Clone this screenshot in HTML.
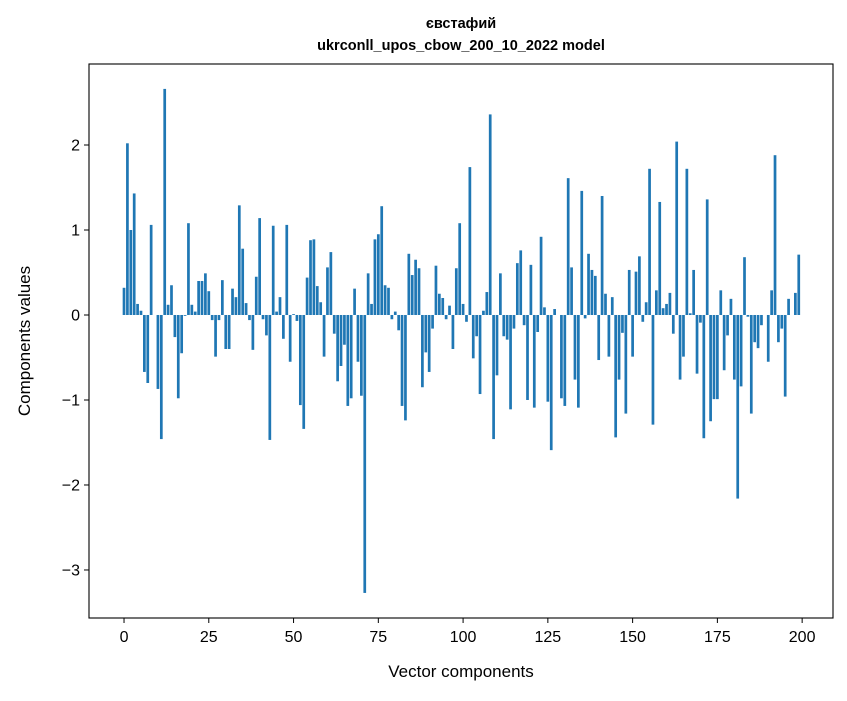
<!DOCTYPE html>
<html><head><meta charset="utf-8"><style>
body{margin:0;background:#fff;font-family:"Liberation Sans","DejaVu Sans",sans-serif}
</style></head><body>
<svg width="847" height="696" viewBox="0 0 847 696" xmlns="http://www.w3.org/2000/svg">
<rect width="847" height="696" fill="#fff"/>
<text x="461" y="28" text-anchor="middle" font-size="14.5" font-weight="bold" fill="#000">євстафий</text>
<text x="461" y="50" text-anchor="middle" font-size="14.5" font-weight="bold" fill="#000">ukrconll_upos_cbow_200_10_2022 model</text>
<g id="bars"></g>
<g id="axes"></g>
<rect x="89" y="64" width="744" height="554" fill="none" stroke="#000" stroke-width="1.1"/>
<text x="461" y="677" text-anchor="middle" font-size="17">Vector components</text>
<text transform="translate(30,341) rotate(-90)" text-anchor="middle" font-size="17">Components values</text>
</svg>
<script>
const values = [0.32,2.02,1.0,1.43,0.13,0.05,-0.67,-0.80,1.06,0.0,-0.87,-1.46,2.66,0.12,0.35,-0.26,-0.98,-0.45,-0.01,1.08,
0.12,0.04,0.40,0.40,0.49,0.28,-0.06,-0.49,-0.06,0.41,-0.40,-0.40,0.31,0.21,1.29,0.78,0.14,-0.06,-0.41,0.45,
1.14,-0.05,-0.24,-1.47,1.05,0.04,0.21,-0.28,1.06,-0.55,0.01,-0.07,-1.06,-1.34,0.44,0.88,0.89,0.34,0.15,-0.49,
0.56,0.74,-0.22,-0.78,-0.60,-0.35,-1.07,-0.98,0.31,-0.55,-0.95,-3.27,0.49,0.13,0.89,0.95,1.28,0.35,0.32,-0.05,
0.04,-0.18,-1.07,-1.24,0.72,0.47,0.65,0.55,-0.85,-0.44,-0.67,-0.16,0.58,0.25,0.20,-0.05,0.11,-0.40,0.55,1.08,
0.13,-0.08,1.74,-0.51,-0.25,-0.93,0.05,0.27,2.36,-1.46,-0.71,0.49,-0.25,-0.29,-1.11,-0.16,0.61,0.76,-0.12,-1.0,
0.59,-1.09,-0.20,0.92,0.09,-1.02,-1.59,0.07,0.0,-0.98,-1.07,1.61,0.56,-0.76,-1.09,1.46,-0.04,0.72,0.53,0.46,
-0.53,1.40,0.25,-0.49,0.21,-1.44,-0.76,-0.21,-1.16,0.53,-0.49,0.51,0.69,-0.08,0.15,1.72,-1.29,0.29,1.33,0.08,
0.13,0.26,-0.22,2.04,-0.76,-0.49,1.72,0.02,0.53,-0.69,-0.09,-1.45,1.36,-1.25,-0.99,-0.99,0.29,-0.65,-0.24,0.19,
-0.76,-2.16,-0.84,0.68,-0.02,-1.16,-0.32,-0.39,-0.12,0.0,-0.55,0.29,1.88,-0.32,-0.16,-0.96,0.19,0.0,0.26,0.71];
const xTicks = [0,25,50,75,100,125,150,175,200];
const yTicks = [-3,-2,-1,0,1,2];
const yTickLabels = ["\u22123","\u22122","\u22121","0","1","2"];

const NS="http://www.w3.org/2000/svg";
const X0=89,X1=833,Y0=64,Y1=618;
const xmin=-10.33,xmax=209.1,ymin=-3.565,ymax=2.953;
function sx(v){return X0+(v-xmin)/(xmax-xmin)*(X1-X0);}
function sy(v){return Y1-(v-ymin)/(ymax-ymin)*(Y1-Y0);}
const bars=document.getElementById('bars');
values.forEach((v,i)=>{
  const r=document.createElementNS(NS,'rect');
  const xl=sx(i-0.4),xr=sx(i+0.4);
  const y=Math.min(sy(v),sy(0)),h=Math.abs(sy(v)-sy(0));
  r.setAttribute('x',xl);r.setAttribute('width',xr-xl);
  r.setAttribute('y',y);r.setAttribute('height',h);
  r.setAttribute('fill','#1f77b4');
  
  
  bars.appendChild(r);
});
const axes=document.getElementById('axes');
xTicks.forEach(t=>{
  const x=sx(t);
  const l=document.createElementNS(NS,'line');
  l.setAttribute('x1',x);l.setAttribute('x2',x);l.setAttribute('y1',Y1);l.setAttribute('y2',Y1+5);
  l.setAttribute('stroke','#000');
  
  
  axes.appendChild(l);
  const tx=document.createElementNS(NS,'text');
  tx.setAttribute('x',x);tx.setAttribute('y',Y1+24);tx.setAttribute('text-anchor','middle');tx.setAttribute('font-size','16');
  tx.textContent=t;
  
  
  axes.appendChild(tx);
});
yTicks.forEach((t,k)=>{
  const y=sy(t);
  const l=document.createElementNS(NS,'line');
  l.setAttribute('x1',X0-5);l.setAttribute('x2',X0);l.setAttribute('y1',y);l.setAttribute('y2',y);
  l.setAttribute('stroke','#000');
  
  
  axes.appendChild(l);
  const tx=document.createElementNS(NS,'text');
  tx.setAttribute('x',X0-9);tx.setAttribute('y',y+5.5);tx.setAttribute('text-anchor','end');tx.setAttribute('font-size','16');
  tx.textContent=yTickLabels[k];
  
  
  axes.appendChild(tx);
});
</script>
</body></html>
